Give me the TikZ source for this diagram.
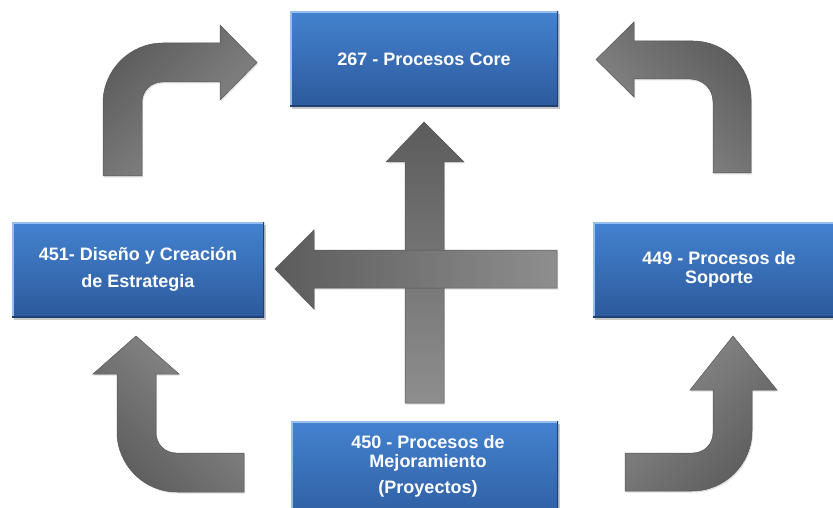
\documentclass[tikz,border=0pt]{standalone}
\usepackage{fontspec}
\setmainfont{Liberation Sans}
\usetikzlibrary{shadows}
\definecolor{boxtop}{RGB}{68,130,208}
\definecolor{boxbot}{RGB}{44,90,156}
\definecolor{bevlight}{RGB}{150,190,238}
\definecolor{bevdark}{RGB}{30,65,115}
\definecolor{arrdark}{RGB}{92,92,92}
\definecolor{arrlight}{RGB}{142,142,142}
\definecolor{arredge}{RGB}{85,85,85}
\begin{document}
\begin{tikzpicture}[x=1pt,y=-1pt,
  boxtext/.style={text=white, font=\fontsize{18}{19.5}\selectfont\bfseries, align=center},
  box/.style={rectangle, inner sep=0pt, top color=boxtop, bottom color=boxbot, boxtext,
    drop shadow={shadow xshift=1.5pt, shadow yshift=-2.5pt, opacity=0.35, fill=black!60},
    path picture={
      \draw[bevlight, line width=4pt] (path picture bounding box.south west) -- (path picture bounding box.north west) -- (path picture bounding box.north east);
      \draw[bevdark, line width=3pt] (path picture bounding box.north east) -- (path picture bounding box.south east) -- (path picture bounding box.south west);}},
  blockarrow/.style={draw=arredge, line width=0.5pt, shading=axis, top color=arrdark, bottom color=arrlight,
    drop shadow={shadow xshift=1pt, shadow yshift=-1.5pt, opacity=0.25, fill=black!50}}
]
\useasboundingbox (0,0) rectangle (833,508);
\clip (0,0) rectangle (833,508);
\fill[white] (0,0) rectangle (833,508);

% top-left bent arrow
\path[blockarrow, shading angle=45] (103,176) -- (103,103) .. controls (103,70) and (130,43) .. (163,43) -- (220,43) -- (220,25) -- (257,62.5) -- (220,100) -- (220,82) -- (162,82) .. controls (151,82) and (142,91) .. (142,102) -- (142,176) -- cycle;
% top-right bent arrow
\path[blockarrow, shading angle=-45] (751,173) -- (751,99) .. controls (751,67) and (725,41) .. (693,41) -- (634,41) -- (634,22) -- (596,59.5) -- (634,97) -- (634,79) -- (690,79) .. controls (703,79) and (713,89) .. (713,102) -- (713,173) -- cycle;
% bottom-left bent arrow
\path[blockarrow, shading angle=135] (136,336) -- (179,374) -- (156,374) -- (156,433) .. controls (156,444) and (165,453) .. (176,453) -- (244,453) -- (244,492) -- (177,492) .. controls (144,492) and (117,465) .. (117,432) -- (117,374) -- (93,374) -- cycle;
% bottom-right bent arrow
\path[blockarrow, shading angle=-135] (733,336) -- (777,390) -- (752,390) -- (752,431) .. controls (752,464) and (725,491) .. (692,491) -- (625,491) -- (625,453) -- (693,453) .. controls (704,453) and (713,444) .. (713,433) -- (713,390) -- (690,390) -- cycle;
% central vertical arrow
\path[blockarrow, shading angle=0] (424,122) -- (464,162) -- (444,162) -- (444,403) -- (405,403) -- (405,162) -- (386,162) -- cycle;
% central horizontal arrow
\path[blockarrow, shading angle=90] (275,269) -- (314,230) -- (314,250) -- (557,250) -- (557,288) -- (314,288) -- (314,309) -- cycle;

\node[box, minimum width=268pt, minimum height=95pt] (core) at (424,59) {267 - Procesos Core};
\node[box, minimum width=252pt, minimum height=95pt] (strat) at (138,269.5) {451- Diseño y Creación\\[7.5pt]de Estrategia};
\node[box, minimum width=252pt, minimum height=95pt] (sop) at (719,269.5) {449 - Procesos de\\Soporte};
\node[box, minimum width=267pt, minimum height=110pt, anchor=north] (mej) at (424.5,421) {};
\node[boxtext] (mejtxt) at (428,466) {450 - Procesos de\\Mejoramiento\\[6pt](Proyectos)};
\end{tikzpicture}
\end{document}
